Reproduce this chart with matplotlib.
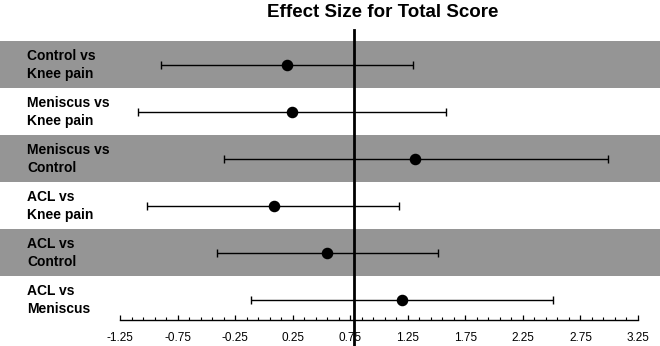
import numpy as np
import matplotlib
matplotlib.use("Agg")
import matplotlib.pyplot as plt
from matplotlib.ticker import FixedLocator

plt.rcParams['font.family'] = ['Liberation Sans', 'DejaVu Sans']

# ---- data ----
comparisons = ["Control vs\nKnee pain", "Meniscus vs\nKnee pain", "Meniscus vs\nControl",
               "ACL vs\nKnee pain", "ACL vs\nControl", "ACL vs\nMeniscus"]
effect = [0.20, 0.246, 1.31, 0.085, 0.55, 1.20]
ci_low = [-0.89, -1.09, -0.343, -1.012, -0.405, -0.108]
ci_high = [1.296, 1.58, 2.99, 1.172, 1.51, 2.51]
ref_line = 0.78
major_ticks = [-1.25, -0.75, -0.25, 0.25, 0.75, 1.25, 1.75, 2.25, 2.75, 3.25]
tick_labels = ["-1.25", "-0.75", "-0.25", "0.25", "0.75", "1.25", "1.75", "2.25", "2.75", "3.25"]
title = "Effect Size for Total Score"

W, H = 660, 346
fig = plt.figure(figsize=(W / 100, H / 100), dpi=100)
ax = fig.add_axes([0, 0, 1, 1])

# x mapping: -1.25 -> 120px, 3.25 -> 638px
ppu = (638 - 120) / 4.5
ax.set_xlim(-1.25 - 120 / ppu, 3.25 + (W - 638) / ppu)
# y mapping: row 0 center at 64px, spacing 47px
row_h = 47.0
y0 = 64.0
ax.set_ylim((H - y0) / row_h, -y0 / row_h)

n = len(comparisons)
ypos = np.arange(n)
for i in range(n):
    if i % 2 == 0:
        ax.axhspan(i - 0.5, i + 0.5, color="#959595", lw=0, zorder=0)

xerr = [np.array(effect) - np.array(ci_low), np.array(ci_high) - np.array(effect)]
ax.errorbar(effect, ypos + 0.02, xerr=xerr, fmt='o', color='black', ms=7.3,
            elinewidth=1.0, capsize=2.6, capthick=1.0, zorder=3)

for i, lab in enumerate(comparisons):
    ax.text(27 / W, i + 0.02, lab, transform=ax.get_yaxis_transform(), ha='left', va='center',
            fontsize=10, fontweight='bold', linespacing=1.3, zorder=4)

# vertical reference line from y=30px to bottom
ax.axvline(ref_line, ymin=0, ymax=1 - 30 / H, color='black', lw=2.0, zorder=5)

# axis
for s in ['top', 'left', 'right']:
    ax.spines[s].set_visible(False)
ax.spines['bottom'].set_position(('data', (320 - y0) / row_h))
ax.spines['bottom'].set_bounds(-1.25, 3.25)
ax.spines['bottom'].set_linewidth(1.0)
ax.spines['bottom'].set_zorder(6)
ax.set_yticks([])
ax.xaxis.set_major_locator(FixedLocator(major_ticks))
ax.set_xticklabels(tick_labels, fontsize=8.5)
ax.xaxis.set_minor_locator(FixedLocator(np.arange(-1.25, 3.26, 0.1)))
ax.tick_params(axis='x', which='major', direction='in', length=3.8, width=0.9, pad=8.5)
ax.tick_params(axis='x', which='minor', direction='in', length=2.0, width=0.8)
ax.patch.set_alpha(0)

fig.text(383 / W, 1 - 12.5 / H, title, ha='center', va='center', fontsize=13.5, fontweight='bold')

fig.savefig("out.png", dpi=100)
